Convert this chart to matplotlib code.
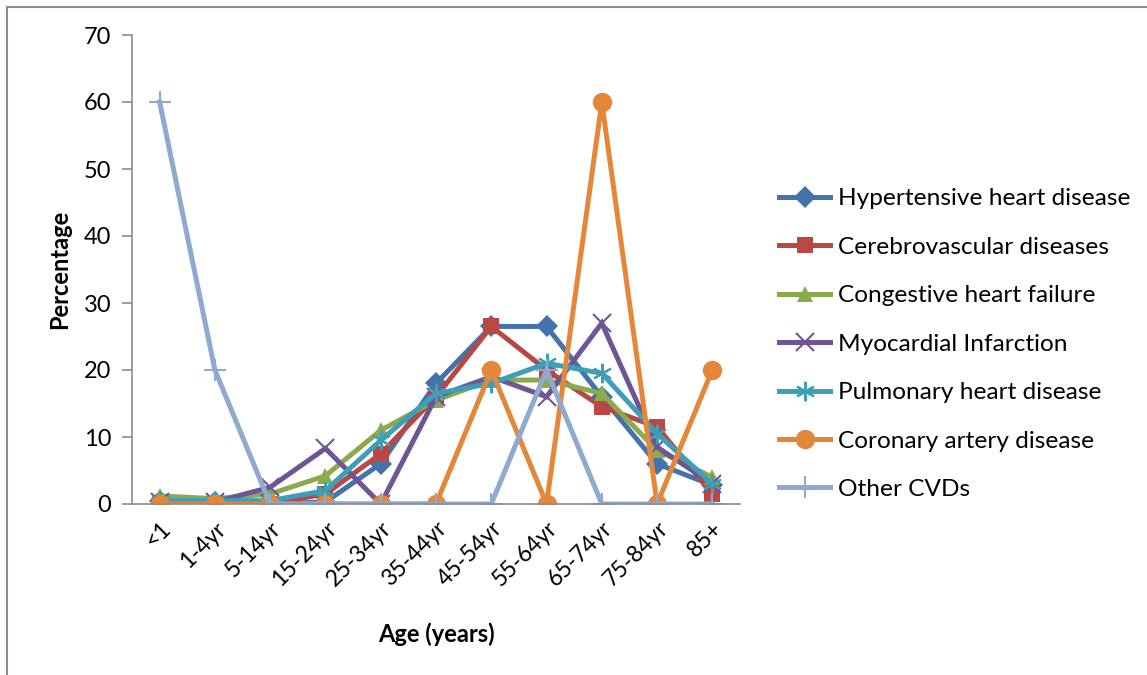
import matplotlib
matplotlib.use("Agg")
import matplotlib.pyplot as plt
from matplotlib.patches import Rectangle

plt.rcParams['font.family'] = ['Lato', 'DejaVu Sans']

ages = ["<1", "1-4yr", "5-14yr", "15-24yr", "25-34yr", "35-44yr",
        "45-54yr", "55-64yr", "65-74yr", "75-84yr", "85+"]

hypertensive = [0.5, 0.3, 0, 0.3, 6, 18, 26.5, 26.5, 16, 6, 2.8]
cerebrovascular = [0, 0, 0, 1.5, 7.5, 16, 26.5, 20, 14.5, 11.5, 1.5]
congestive = [1.2, 0.8, 1.5, 4.2, 11, 15.5, 18.5, 18.5, 16.5, 8, 4]
myocardial = [0.3, 0.3, 2.5, 8.3, 0, 16, 19, 16, 27, 8.5, 3]
pulmonary = [0.5, 0.5, 0.5, 2, 9.5, 16.5, 18, 21, 19.5, 10.5, 3]
coronary = [0, 0, 0, 0, 0, 0, 20, 0, 60, 0, 20]
other = [60, 20, 0, 0, 0, 0, 0, 20, 0, 0, 0]

series = [
    ("Hypertensive heart disease", hypertensive, "#4473AC", "D", 11),
    ("Cerebrovascular diseases", cerebrovascular, "#B94744", "s", 12),
    ("Congestive heart failure", congestive, "#8BAA4B", "^", 12),
    ("Myocardial Infarction", myocardial, "#6E5596", "x", 13),
    ("Pulmonary heart disease", pulmonary, "#3D9FB8", (6, 2, 0), 14),
    ("Coronary artery disease", coronary, "#E5873A", "o", 14),
    ("Other CVDs", other, "#8FA9CF", "+", 16),
]

fig = plt.figure(figsize=(11.47, 6.75), dpi=100)
ax = fig.add_axes([132 / 1147, 1 - 504 / 675, (740 - 132) / 1147, (504 - 35) / 675])

# grey frame around the chart area
fig.patches.append(Rectangle((7 / 1147, -0.1), 1.2, 1 - 7 / 675 + 0.1,
                             transform=fig.transFigure, fill=False,
                             edgecolor="#8c8c8c", linewidth=1.5))

x = list(range(len(ages)))
for name, vals, col, mk, ms in series:
    mew = 1.5 if mk in ("x", "+") or isinstance(mk, tuple) else 0
    ax.plot(x, vals, color=col, linewidth=3.6, marker=mk, markersize=ms,
            markeredgewidth=mew, markeredgecolor=col, markerfacecolor=col,
            label=name, solid_joinstyle="miter")

ax.set_xlim(-0.5, len(ages) - 0.5)
ax.set_ylim(0, 70)
ax.set_yticks(range(0, 71, 10))
ax.set_xticks(x)
ax.set_xticklabels(ages, rotation=45, ha="right", rotation_mode="anchor")

for s in ["top", "right"]:
    ax.spines[s].set_visible(False)
for s in ["left", "bottom"]:
    ax.spines[s].set_color("#8c8c8c")
    ax.spines[s].set_linewidth(1.2)
ax.tick_params(axis="y", length=7, width=1.2, color="#8c8c8c", labelsize=17, pad=8)
ax.tick_params(axis="x", length=0, labelsize=16.5, pad=10)

ax.set_ylabel("Percentage", fontsize=17, fontweight="bold", labelpad=9)
ax.set_xlabel("Age (years)", fontsize=17, fontweight="bold", labelpad=23)

leg = ax.legend(loc="upper left", bbox_to_anchor=(779 / 1147, 1 - 188 / 675),
                bbox_transform=fig.transFigure, frameon=False, fontsize=17.6,
                handlelength=2.1, handletextpad=0.3, labelspacing=1.12,
                borderaxespad=0, borderpad=0)

fig.savefig("out.png", dpi=100)
